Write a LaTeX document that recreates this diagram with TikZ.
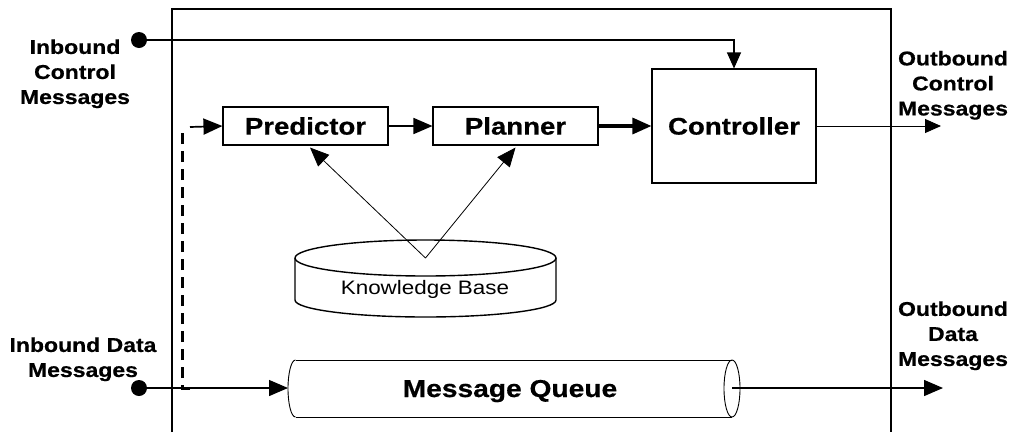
\documentclass[tikz,border=0pt]{standalone}
\usepackage{fontspec}
\setmainfont{Liberation Sans}[FakeStretch=1.15, BoldFeatures={FakeBold=0.6}]
\usetikzlibrary{arrows.meta}
\begin{document}
\begin{tikzpicture}[x=1pt,y=-1pt,
  box/.style={draw, line width=1.1pt, inner sep=0pt, font=\fontsize{24}{28}\selectfont\bfseries},
  lbl/.style={align=center, inner sep=0pt, font=\fontsize{20}{25}\selectfont\bfseries},
  tip/.style={-{Triangle[length=19pt,width=16pt]}},
  smalltip/.style={-{Triangle[length=16pt,width=14pt]}},
  dot/.style={circle, fill, minimum size=16pt, inner sep=0pt},
  frame/.style={line width=2.2pt},
  thinline/.style={line width=0.9pt},
  dashline/.style={line width=3pt, dash pattern=on 11pt off 7pt}]
\useasboundingbox (0,0) rectangle (1014,432);

% outer frame
\draw[frame] (172,432) -- (172,9) -- (891,9) -- (891,432);

% boxes
\node[box, minimum width=165pt, minimum height=38pt] (pred) at (305.5,126) {Predictor};
\node[box, minimum width=165pt, minimum height=38pt] (plan) at (515.5,126) {Planner};
\node[box, minimum width=164pt, minimum height=114pt] (ctrl) at (734,126) {Controller};

% labels
\node[lbl] (icm) at (75,73.8) {Inbound\\Control\\Messages};
\node[lbl] (idm) at (83,359.3) {Inbound Data\\Messages};
\node[lbl] (ocm) at (953,85.3) {Outbound\\Control\\Messages};
\node[lbl] (odm) at (953,335.8) {Outbound\\Data\\Messages};

% inbound control
\node[dot] (inc) at (139,40) {};
\draw[line width=1.1pt, smalltip] (inc.center) -| (ctrl.north);

% predictor -> planner -> controller -> out
\draw[line width=1.7pt, tip] (pred) -- (plan);
\draw[line width=3.2pt, tip] (plan) -- (ctrl);
\coordinate (octl) at (941,126);
\draw[thinline, smalltip] (ctrl) -- (octl);

% knowledge base
\draw[line width=1.4pt] (295,258) -- (295,300)
  arc[start angle=180, end angle=360, x radius=130.5pt, y radius=17pt] -- (556,258);
\draw[line width=1.4pt] (425.5,258) ellipse[x radius=130.5pt, y radius=18pt];
\node[anchor=base, inner sep=0pt, font=\fontsize{19.5}{22}\selectfont] (kb) at (425,294) {Knowledge Base};
\coordinate (kbtop) at (425.5,258);
\draw[line width=0.8pt, tip] (kbtop) -- ([xshift=4.5pt,yshift=-2pt]pred.south);
\draw[line width=0.8pt, tip] (kbtop) -- ([yshift=-2pt]plan.south);

% message queue
\draw[thinline] (295.5,360) -- (732,360);
\draw[thinline] (295.5,417) -- (732,417);
\draw[thinline] (295.5,360) arc[start angle=90, end angle=270, x radius=7.5pt, y radius=28.5pt];
\draw[thinline] (732,388.5) ellipse[x radius=8pt, y radius=28.5pt];
\node[anchor=base, inner sep=0pt, font=\fontsize{24.5}{28}\selectfont\bfseries] (mq) at (510,397) {Message Queue};

% inbound data
\node[dot] (ind) at (139,388) {};
\coordinate (qin) at (288,388);
\draw[line width=1.4pt, tip] (ind.center) -- (qin);
\coordinate (dstub) at (190,388);
\coordinate (dcorner) at (182,388);
\coordinate (dtop) at (182,127);
\draw[dashline] (dstub) -- (dcorner) -- (dtop);
\coordinate (dst) at (190,127);
\draw[line width=1.7pt, tip] (dst) -- (pred.west);

% outbound data
\coordinate (qout) at (732,388);
\coordinate (odat) at (943,388);
\draw[line width=1.4pt, tip] (qout) -- (odat);
\end{tikzpicture}
\end{document}
